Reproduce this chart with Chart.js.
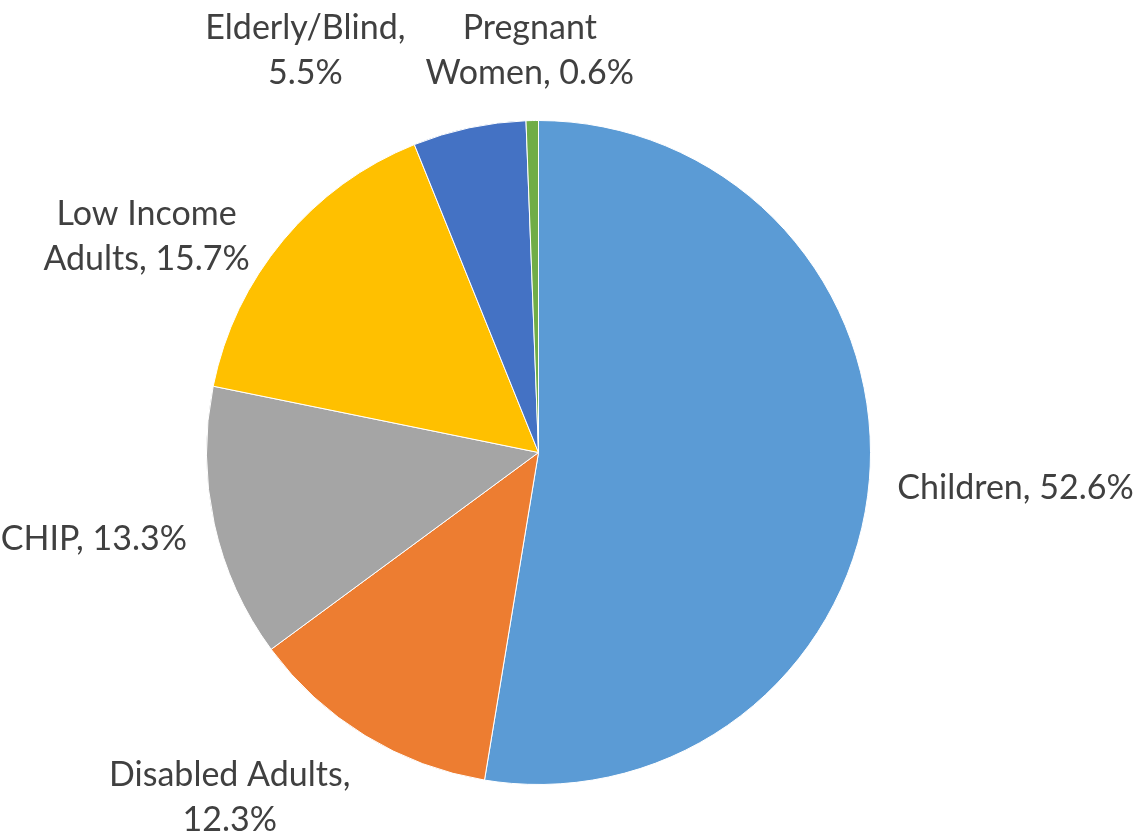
<!DOCTYPE html>
<html lang="en">
<head>
    <meta charset="UTF-8">
    <title>Enrollment by group</title>
    <script src="https://cdn.jsdelivr.net/npm/chart.js"></script>
    <style>
        html, body { margin: 0; padding: 0; background: #fff; }
        #wrap { width: 1146px; height: 839px; }
    </style>
</head>
<body>
    <div id="wrap"><canvas id="pie"></canvas></div>
    <script>
        const categories = ['Children', 'Disabled Adults', 'CHIP', 'Low Income Adults', 'Elderly/Blind', 'Pregnant Women'];
        const shares = [52.6, 12.3, 13.3, 15.7, 5.5, 0.6];
        const colors = ['#5B9BD5', '#ED7D31', '#A5A5A5', '#FFC000', '#4472C4', '#70AD47'];
        // how the labels wrap in the original
        const labelLines = [
            ['Children, 52.6%'],
            ['Disabled Adults,', '12.3%'],
            ['CHIP, 13.3%'],
            ['Low Income', 'Adults, 15.7%'],
            ['Elderly/Blind,', '5.5%'],
            ['Pregnant', 'Women, 0.6%']
        ];
        // small shifts so labels sit where the original put them
        const labelNudge = [[0, 4], [0, 0], [0, 4], [-12, 43], [-137, -6], [0, 3]];

        const labelFont = '34px Lato';
        const lineH = 45;

        const outsideLabels = {
            id: 'outsideLabels',
            afterDraw(chart) {
                const ctx = chart.ctx;
                const arcs = chart.getDatasetMeta(0).data;
                ctx.save();
                ctx.font = labelFont;
                ctx.fillStyle = '#404040';
                ctx.textAlign = 'center';
                ctx.textBaseline = 'middle';
                arcs.forEach(function(arc, i) {
                    const p = arc.getProps(['x', 'y', 'startAngle', 'endAngle', 'outerRadius'], true);
                    const mid = (p.startAngle + p.endAngle) / 2;
                    const c = Math.cos(mid), s = Math.sin(mid);
                    const r = p.outerRadius + 28;
                    const ax = p.x + c * r, ay = p.y + s * r;
                    const lines = labelLines[i];
                    let w = 0;
                    lines.forEach(l => { w = Math.max(w, ctx.measureText(l).width); });
                    const h = lines.length * lineH;
                    let cx;
                    if (c > 0.3) cx = ax + w / 2;
                    else if (c < -0.3) cx = ax - w / 2;
                    else cx = ax + c * w / 2;
                    let cy = ay + s * h / 2;
                    cx += labelNudge[i][0];
                    cy += labelNudge[i][1];
                    lines.forEach(function(l, k) {
                        ctx.fillText(l, cx, cy - h / 2 + lineH / 2 + k * lineH);
                    });
                });
                ctx.restore();
            }
        };

        new Chart(document.getElementById('pie'), {
            type: 'pie',
            data: {
                labels: categories,
                datasets: [{
                    data: shares,
                    backgroundColor: colors,
                    borderColor: '#ffffff',
                    borderWidth: 1
                }]
            },
            options: {
                responsive: true,
                maintainAspectRatio: false,
                animation: false,
                layout: { padding: { top: 120, bottom: 54, left: 206, right: 275 } },
                plugins: {
                    legend: { display: false },
                    tooltip: { enabled: false }
                }
            },
            plugins: [outsideLabels]
        });
    </script>
</body>
</html>
